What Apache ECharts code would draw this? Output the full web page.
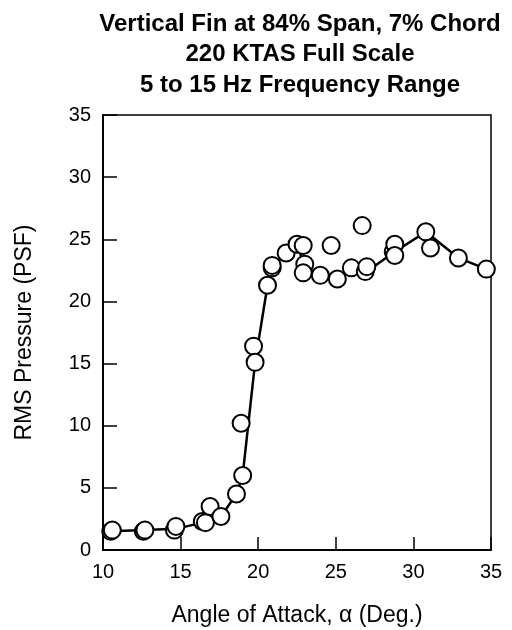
<!DOCTYPE html>
<html>
<head>
<meta charset="utf-8">
<script src="https://cdn.jsdelivr.net/npm/echarts@6/dist/echarts.min.js"></script>
<style>html,body{margin:0;padding:0;background:#fff}#c{width:512px;height:630px}</style>
</head>
<body>
<div id="c"></div>
<script>
var titleLines = ["Vertical Fin at 84% Span, 7% Chord", "220 KTAS Full Scale", "5 to 15 Hz Frequency Range"];
var xName = "Angle of Attack, \u03b1 (Deg.)";
var yName = "RMS Pressure (PSF)";
var xTicks = [10, 15, 20, 25, 30, 35];
var yTicks = [0, 5, 10, 15, 20, 25, 30, 35];

// measured points (angle, rms pressure)
var pointX = [10.5, 10.6, 12.6, 12.7, 14.6, 14.7, 16.4, 16.6, 16.9, 17.6, 18.6, 19.0, 18.9, 19.7, 19.8, 20.6, 20.9, 20.9, 21.8, 22.5, 22.9, 23.0, 22.9, 24.0, 24.7, 25.1, 26.0, 26.7, 26.9, 27.0, 28.7, 28.8, 28.8, 30.8, 31.1, 32.9, 34.7];
var pointY = [1.5, 1.6, 1.5, 1.6, 1.6, 1.9, 2.3, 2.2, 3.5, 2.7, 4.5, 6.0, 10.2, 16.4, 15.1, 21.3, 22.7, 22.9, 23.9, 24.6, 24.5, 23.0, 22.3, 22.1, 24.5, 21.8, 22.7, 26.1, 22.4, 22.8, 24.0, 24.6, 23.7, 25.6, 24.3, 23.5, 22.6];

// faired curve through the data
var lineX = [10.5, 12.7, 14.7, 16.4, 17.6, 18.6, 19.0, 19.8, 20.6, 20.9, 21.8, 22.5, 23.0, 24.0, 25.1, 26.0, 27.0, 28.8, 30.8, 32.9, 34.7];
var lineY = [1.5, 1.6, 1.7, 2.2, 2.7, 4.5, 6.0, 15.1, 21.3, 22.7, 23.9, 24.6, 22.8, 22.1, 21.8, 22.7, 22.4, 24.0, 25.6, 23.5, 22.6];

var pts = pointX.map(function (x, i) { return [x, pointY[i]]; });
var ln = lineX.map(function (x, i) { return [x, lineY[i]]; });

var chart = echarts.init(document.getElementById('c'), null, {renderer: 'canvas'});
var font = "'Liberation Sans', Arial, sans-serif";
chart.setOption({
  animation: false,
  backgroundColor: '#fff',
  title: {
    text: titleLines.join('\n'),
    left: 295, top: 4, textAlign: 'center',
    textStyle: {fontFamily: font, fontWeight: 'bold', fontSize: 24, lineHeight: 30.5, color: '#000'}
  },
  grid: {left: 103, right: 21, top: 115, bottom: 80, show: true, borderColor: '#000', borderWidth: 1.5,
    backgroundColor: 'transparent', outerBoundsMode: 'none', containLabel: false},
  xAxis: {
    type: 'value', min: 10, max: 35, interval: 5,
    name: xName, nameLocation: 'middle', nameGap: 54,
    nameTextStyle: {fontFamily: font, fontSize: 23, color: '#000'},
    axisLine: {show: true, onZero: false, lineStyle: {color: '#000', width: 2}},
    axisTick: {show: true, inside: true, length: 13, lineStyle: {color: '#000', width: 1.5}},
    axisLabel: {fontFamily: font, fontSize: 20, color: '#000', margin: 12,
      formatter: function (v) { return xTicks.indexOf(v) >= 0 ? String(v) : ''; }},
    splitLine: {show: false}
  },
  yAxis: {
    type: 'value', min: 0, max: 35, interval: 5,
    name: yName, nameLocation: 'middle', nameGap: 67, nameRotate: 90,
    nameTextStyle: {fontFamily: font, fontSize: 23, color: '#000'},
    axisLine: {show: true, onZero: false, lineStyle: {color: '#000', width: 2}},
    axisTick: {show: true, inside: true, length: 14, lineStyle: {color: '#000', width: 1.5}},
    axisLabel: {fontFamily: font, fontSize: 20, color: '#000', margin: 12,
      formatter: function (v) { return yTicks.indexOf(v) >= 0 ? String(v) : ''; }},
    splitLine: {show: false}
  },
  series: [
    {type: 'line', data: ln, symbol: 'none', lineStyle: {color: '#000', width: 2.5}, z: 2},
    {type: 'scatter', data: pts, symbol: 'circle', symbolSize: 17,
      itemStyle: {color: '#fff', borderColor: '#000', borderWidth: 2, opacity: 1}, z: 3}
  ]
});
</script>
</body>
</html>
